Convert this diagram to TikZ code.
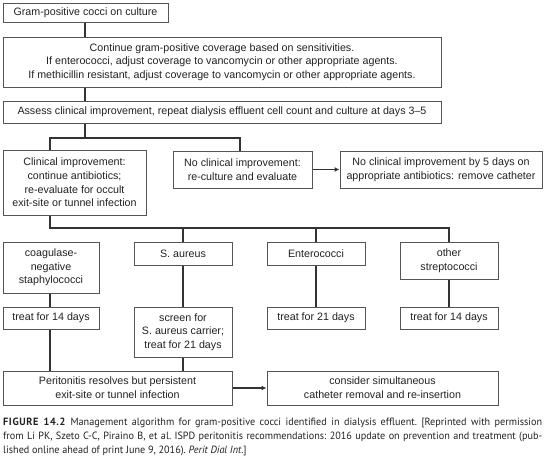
\documentclass[tikz,border=0pt]{standalone}
\usepackage{fontspec}
\setmainfont{Liberation Sans}
\newfontfamily\capfont[FakeStretch=0.97]{PT Sans}
\usetikzlibrary{arrows.meta}
\definecolor{boxc}{HTML}{555555}
\definecolor{linec}{HTML}{333333}
\definecolor{txtc}{HTML}{222222}
\begin{document}
\begin{tikzpicture}[x=1pt,y=-1pt,
  bx/.style={draw=boxc,line width=1pt,inner sep=0pt,align=center,text=txtc,
    font=\fontsize{10.7}{13.7}\selectfont},
  cn/.style={draw=linec,line width=1.5pt},
  ar/.style={draw=linec,line width=1.5pt,-{Latex[length=5pt,width=5pt]}}]
\useasboundingbox (0,0) rectangle (550,461);
\fill[white] (0,0) rectangle (550,461);
% boxes
\node[bx,minimum width=165pt,minimum height=19pt] (b1) at (85.5,12.5) {Gram-positive cocci on culture};
\node[bx,minimum width=438pt,minimum height=50pt] (b2) at (222,62) {Continue gram-positive coverage based on sensitivities.\\If enterococci, adjust coverage to vancomycin or other appropriate agents.\\If methicillin resistant, adjust coverage to vancomycin or other appropriate agents.};
\node[bx,minimum width=438pt,minimum height=22pt] (b3) at (222,112) {Assess clinical improvement, repeat dialysis effluent cell count and culture at days 3--5};
\node[bx,minimum width=143pt,minimum height=65pt] (b4) at (74.5,182.5) {Clinical improvement:\\continue antibiotics;\\re-evaluate for occult\\exit-site or tunnel infection};
\node[bx,minimum width=139pt,minimum height=37pt] (b5) at (242.5,169.5) {No clinical improvement:\\re-culture and evaluate};
\node[bx,minimum width=202pt,minimum height=37pt] (b6) at (441,170) {No clinical improvement by 5 days on\\appropriate antibiotics: remove catheter};
\node[bx,minimum width=96pt,minimum height=51pt] (r1) at (51,267.5) {coagulase-\\negative\\staphylococci};
\node[bx,minimum width=98pt,minimum height=23pt] (r2) at (183,253.5) {S. aureus};
\node[bx,minimum width=98pt,minimum height=23pt] (r3) at (316,253.5) {Enterococci};
\node[bx,minimum width=98pt,minimum height=37pt] (r4) at (449,260.5) {other\\streptococci};
\node[bx,minimum width=96pt,minimum height=22pt] (t1) at (51,318) {treat for 14 days};
\node[bx,minimum width=98pt,minimum height=50pt] (t2) at (183,332) {screen for\\S. aureus carrier;\\treat for 21 days};
\node[bx,minimum width=98pt,minimum height=22pt] (t3) at (316,318) {treat for 21 days};
\node[bx,minimum width=98pt,minimum height=22pt] (t4) at (449,318) {treat for 14 days};
\node[bx,minimum width=229pt,minimum height=34pt] (p1) at (117.5,388) {Peritonitis resolves but persistent\\exit-site or tunnel infection};
\node[bx,minimum width=231pt,minimum height=34pt] (p2) at (382.5,388) {consider simultaneous\\catheter removal and re-insertion};
% junctions
\coordinate (j1) at (85,138);
\coordinate (j4) at (50,138);
\coordinate (j5) at (240,138);
\coordinate (k1) at (50,228);
\coordinate (k2) at (183,228);
\coordinate (k3) at (316,228);
\coordinate (k4) at (449,228);
% connectors
\draw[cn] (b1.south -| j1) -- (b2.north -| j1);
\draw[cn] (b2.south -| j1) -- (b3.north -| j1);
\draw[cn] (b3.south -| j1) -- (j1);
\draw[cn] (b4.north -| j4) -- (j4) -- (j5) -- (b5.north -| j5);
\draw[ar] (b5.east |- b5.center) -- (b6.west |- b5.center);
\draw[cn] (b4.south -| k1) -- (k1) -- (k4) -- (r4.north);
\draw[cn] (k2) -- (r2.north);
\draw[cn] (k3) -- (r3.north);
\draw[cn] (r1.south -| k1) -- (t1.north -| k1);
\draw[cn] (r2.south) -- (t2.north);
\draw[cn] (r3.south) -- (t3.north);
\draw[cn] (r4.south) -- (t4.north);
\draw[cn] (t1.south -| k1) -- (p1.north -| k1);
\draw[cn] (t2.south) -- (p1.north -| t2.south);
\draw[ar] (p1.east) -- (p2.west |- p1.east);
% caption
\node[anchor=north west,inner sep=0pt,text width=539pt,align=justify,text=txtc,
  font=\capfont\fontsize{10.5}{14}\selectfont\frenchspacing] (cap) at (3,418)
  {{\bfseries\addfontfeatures{LetterSpace=6}FIGURE 14.2}\enspace Management algorithm for gram-positive cocci identified in dialysis effluent. [Reprinted with permission\linebreak from Li PK, Szeto C-C, Piraino B, et al. ISPD peritonitis recommendations: 2016 update on prevention and treatment (pub-\linebreak lished online ahead of print June 9, 2016). \textit{Perit Dial Int}.]};
\end{tikzpicture}
\end{document}
